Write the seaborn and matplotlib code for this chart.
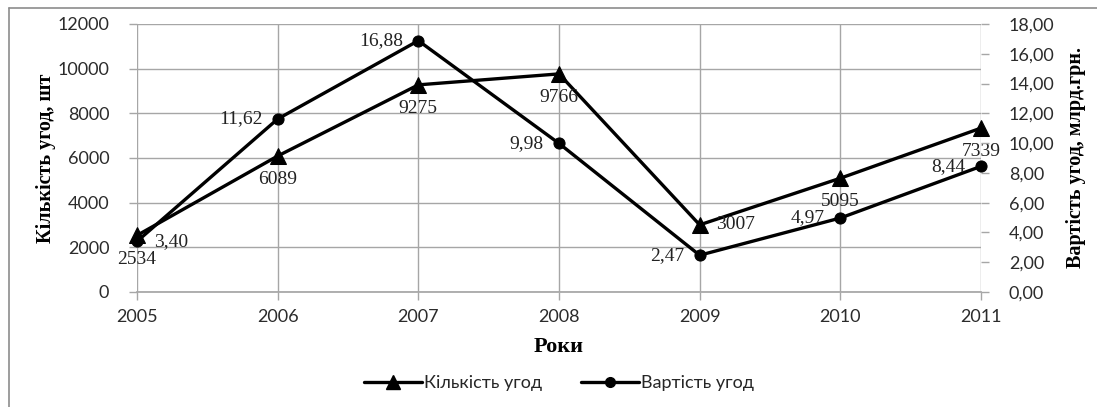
import matplotlib
matplotlib.use("Agg")
import matplotlib.pyplot as plt
import seaborn as sns
import pandas as pd
from matplotlib.ticker import FuncFormatter, MultipleLocator
from matplotlib.lines import Line2D

years = [2005, 2006, 2007, 2008, 2009, 2010, 2011]
count_deals = [2534, 6089, 9275, 9766, 3007, 5095, 7339]
value_deals = [3.40, 11.62, 16.88, 9.98, 2.47, 4.97, 8.44]
count_label_pos = ["below", "below", "below", "below", "right", "below", "below"]
value_label_pos = ["right", "left", "left", "left", "left", "left", "left"]
series_names = ["Кількість угод", "Вартість угод"]

df = pd.DataFrame({"year": years, "count": count_deals, "value": value_deals})

sns.set_theme(style="white")
plt.rcParams["font.family"] = ["Lato", "DejaVu Sans"]

fig = plt.figure(figsize=(10.97, 4.07), dpi=100)
ax = fig.add_axes([137/1097, 1-292/407, (981-137)/1097, (292-24)/407])
ax2 = ax.twinx()

grid_c = "#a6a6a6"
tick_fs = 13
serif = ["Liberation Serif", "DejaVu Serif"]

sns.lineplot(data=df, x="year", y="count", ax=ax, color="black", linewidth=2.4,
             marker="^", markersize=12, markeredgecolor="black", clip_on=False, zorder=5)
sns.lineplot(data=df, x="year", y="value", ax=ax2, color="black", linewidth=2.4,
             marker="o", markersize=8, markeredgecolor="black", clip_on=False, zorder=5)

ax.set_xlim(2005, 2011)
ax.set_ylim(0, 12000)
ax2.set_ylim(0, 18)
ax.yaxis.set_major_locator(MultipleLocator(2000))
ax2.yaxis.set_major_locator(MultipleLocator(2))
ax.set_xticks(years)
ax.set_xticklabels([str(y) for y in years])
ax2.yaxis.set_major_formatter(FuncFormatter(lambda v, p: f"{v:.2f}".replace(".", ",")))

ax.grid(True, color=grid_c, linewidth=1)
ax2.grid(False)
for a in (ax, ax2):
    for s in a.spines.values():
        s.set_visible(False)
ax.spines["bottom"].set_visible(True)
ax.spines["bottom"].set_color(grid_c)

ax.tick_params(axis="both", which="both", length=6, width=1, color=grid_c,
               labelsize=tick_fs, labelcolor="#2b2b2b", pad=8)
ax.tick_params(axis="y", left=True, direction="out", pad=14)
ax.tick_params(axis="x", bottom=True, direction="out", pad=6)
ax2.tick_params(axis="y", right=True, length=6, width=1, color=grid_c,
                labelsize=tick_fs, labelcolor="#2b2b2b", pad=14)

ax.set_xlabel("Роки", fontfamily=serif, fontweight="bold", fontsize=16, labelpad=9, color="black")
ax.set_ylabel("Кількість угод, шт", fontfamily=serif, fontweight="bold", fontsize=14.5,
              labelpad=1, color="black")
ax2.set_ylabel("Вартість угод, млрд.грн.", fontfamily=serif, fontweight="bold", fontsize=14.5,
               labelpad=8, color="black")

lab_fs = 14
offsets = {"below": (0, -17, "center", "center"), "right": (12, 0, "left", "center"),
           "left": (-11, 0, "right", "center"), "above": (0, 14, "center", "center")}
for x, y, pos in zip(years, count_deals, count_label_pos):
    dx, dy, ha, va = offsets[pos]
    ax.annotate(str(y), (x, y), xytext=(dx, dy), textcoords="offset points", ha=ha, va=va,
                fontfamily=serif, fontsize=lab_fs, color="#222222", zorder=6,
                annotation_clip=False)
for x, y, pos in zip(years, value_deals, value_label_pos):
    dx, dy, ha, va = offsets[pos]
    ax2.annotate(f"{y:.2f}".replace(".", ","), (x, y), xytext=(dx, dy), textcoords="offset points",
                 ha=ha, va=va, fontfamily=serif, fontsize=lab_fs, color="#222222", zorder=6,
                 annotation_clip=False)

if ax.get_legend():
    ax.get_legend().remove()
if ax2.get_legend():
    ax2.get_legend().remove()
handles = [Line2D([], [], color="black", linewidth=2.4, marker="^", markersize=10),
           Line2D([], [], color="black", linewidth=2.4, marker="o", markersize=7)]
fig.legend(handles, series_names, loc="center", bbox_to_anchor=(559/1097, 1-383/407), ncol=2,
           frameon=False, handlelength=3.2, handletextpad=0.1, columnspacing=2.2,
           prop={"family": ["Lato", "DejaVu Sans"], "size": 13})

# outer chart frame
fig.add_artist(Line2D([9/1097, 9/1097], [0, 1-8/407], transform=fig.transFigure, color="#8c8c8c", lw=1.2))
fig.add_artist(Line2D([9/1097, 1], [1-8/407, 1-8/407], transform=fig.transFigure, color="#8c8c8c", lw=1.2))

fig.savefig("out.png", dpi=100)
